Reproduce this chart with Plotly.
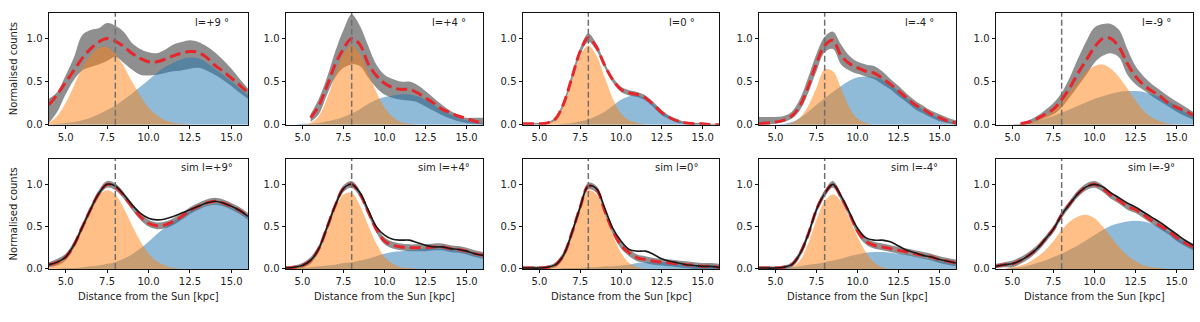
import plotly.graph_objects as go

# ---------------- data ----------------
distance_kpc = [4.0, 4.5, 5.0, 5.5, 6.0, 6.5, 7.0, 7.5, 8.0, 8.5, 9.0, 9.5, 10.0,
                10.5, 11.0, 11.5, 12.0, 12.5, 13.0, 13.5, 14.0, 14.5, 15.0, 15.5, 16.0]
sun_gc_distance = 8.0

x_ticks = [5.0, 7.5, 10.0, 12.5, 15.0]
x_tick_labels = ["5.0", "7.5", "10.0", "12.5", "15.0"]
y_ticks = [0.0, 0.5, 1.0]
y_tick_labels = ["0.0", "0.5", "1.0"]

longitudes = ["+9", "+4", "0", "-4", "-9"]

# --- observed (top row) ---
orange_obs_p9 = [0.02,0.10,0.25,0.45,0.66,0.80,0.89,0.90,0.82,0.68,0.50,0.34,0.20,0.11,0.05,0.02,0.01,0,0,0,0,0,0,0,0]
blue_obs_p9   = [0,0.01,0.02,0.03,0.05,0.08,0.12,0.17,0.22,0.29,0.36,0.44,0.52,0.60,0.67,0.72,0.76,0.78,0.77,0.72,0.65,0.58,0.50,0.42,0.34]
red_obs_p9    = [0.23,0.35,0.49,0.63,0.77,0.88,0.96,1.00,0.97,0.91,0.83,0.77,0.73,0.73,0.76,0.80,0.83,0.85,0.84,0.78,0.69,0.62,0.54,0.46,0.37]
hi_obs_p9     = [0.30,0.38,0.57,0.78,1.04,1.10,1.12,1.18,1.15,1.08,0.95,0.88,0.84,0.83,0.87,0.93,0.96,0.98,0.96,0.91,0.84,0.75,0.65,0.53,0.42]
lo_obs_p9     = [0.02,0.15,0.35,0.52,0.63,0.67,0.70,0.74,0.79,0.72,0.64,0.58,0.57,0.58,0.60,0.62,0.63,0.65,0.66,0.63,0.58,0.52,0.45,0.37,0.30]

orange_obs_p4 = [0,0,0,0.02,0.10,0.30,0.58,0.82,0.92,0.82,0.60,0.38,0.20,0.09,0.03,0.01,0,0,0,0,0,0,0,0,0]
blue_obs_p4   = [0,0,0.01,0.01,0.02,0.04,0.06,0.09,0.13,0.18,0.24,0.29,0.32,0.34,0.35,0.35,0.33,0.29,0.23,0.17,0.12,0.08,0.05,0.03,0.02]
red_obs_p4    = [None,None,None,0.08,0.22,0.45,0.70,0.88,1.00,0.93,0.71,0.57,0.48,0.43,0.41,0.41,0.37,0.31,0.25,0.18,0.14,0.10,0.07,0.04,0.02]
hi_obs_p4     = [None,None,None,0.12,0.30,0.55,0.85,1.10,1.28,1.15,0.92,0.70,0.58,0.53,0.50,0.50,0.46,0.39,0.31,0.23,0.16,0.11,0.08,0.08,0.08]
lo_obs_p4     = [None,None,None,0.03,0.12,0.35,0.55,0.66,0.70,0.68,0.55,0.43,0.35,0.31,0.29,0.28,0.26,0.21,0.16,0.11,0.07,0.04,0.02,0.01,0.0]

orange_obs_0  = [0,0,0,0.01,0.06,0.22,0.52,0.80,0.92,0.80,0.55,0.30,0.13,0.05,0.02,0,0,0,0,0,0,0,0,0,0]
blue_obs_0    = [0,0,0,0,0,0.01,0.02,0.04,0.06,0.10,0.15,0.22,0.29,0.33,0.34,0.30,0.23,0.15,0.09,0.04,0.02,0.01,0,0,0]
red_obs_0     = [0.01,0.01,0.01,0.02,0.07,0.25,0.55,0.85,1.01,0.90,0.69,0.52,0.41,0.37,0.35,0.31,0.23,0.14,0.08,0.04,0.02,0.01,0.01,0.0,0.0]
hi_obs_0      = [0.02,0.02,0.02,0.03,0.09,0.28,0.59,0.89,1.06,0.94,0.72,0.55,0.44,0.40,0.38,0.34,0.26,0.17,0.10,0.06,0.03,0.02,0.02,0.01,0.01]
lo_obs_0      = [0,0,0,0.01,0.05,0.22,0.51,0.81,0.96,0.86,0.66,0.49,0.38,0.34,0.32,0.28,0.20,0.11,0.06,0.02,0.01,0,0,0,0]

orange_obs_m4 = [0,0,0,0,0.02,0.08,0.22,0.43,0.64,0.62,0.42,0.20,0.07,0.02,0,0,0,0,0,0,0,0,0,0,0]
blue_obs_m4   = [0,0,0,0.01,0.03,0.08,0.15,0.23,0.31,0.38,0.45,0.51,0.55,0.56,0.55,0.52,0.46,0.39,0.31,0.24,0.17,0.12,0.07,0.04,0.02]
red_obs_m4    = [0.01,0.02,0.03,0.05,0.10,0.22,0.44,0.71,0.92,0.98,0.80,0.71,0.66,0.62,0.60,0.54,0.47,0.39,0.31,0.23,0.18,0.12,0.08,0.04,0.02]
hi_obs_m4     = [0.09,0.09,0.09,0.10,0.15,0.30,0.55,0.82,1.02,1.08,0.93,0.80,0.73,0.70,0.68,0.62,0.53,0.45,0.36,0.28,0.22,0.16,0.12,0.08,0.05]
lo_obs_m4     = [0,0,0.01,0.03,0.07,0.17,0.37,0.62,0.84,0.88,0.70,0.63,0.59,0.56,0.53,0.47,0.41,0.33,0.26,0.18,0.13,0.08,0.04,0.02,0]

orange_obs_m9 = [0,0,0,0.01,0.02,0.05,0.10,0.17,0.27,0.38,0.50,0.62,0.68,0.70,0.65,0.55,0.42,0.28,0.16,0.08,0.04,0.01,0,0,0]
blue_obs_m9   = [0,0,0,0.01,0.02,0.04,0.07,0.10,0.14,0.18,0.22,0.26,0.30,0.33,0.36,0.38,0.39,0.39,0.38,0.35,0.32,0.27,0.22,0.15,0.10]
red_obs_m9    = [None,None,None,0.01,0.03,0.07,0.12,0.18,0.29,0.43,0.60,0.75,0.90,1.00,1.00,0.90,0.71,0.56,0.46,0.39,0.33,0.25,0.20,0.16,0.11]
hi_obs_m9     = [None,None,None,0.02,0.05,0.10,0.17,0.25,0.37,0.55,0.77,0.97,1.13,1.17,1.17,1.10,0.88,0.68,0.56,0.47,0.40,0.33,0.27,0.21,0.15]
lo_obs_m9     = [None,None,None,0,0.01,0.04,0.08,0.12,0.20,0.32,0.45,0.58,0.72,0.80,0.83,0.78,0.58,0.47,0.40,0.33,0.27,0.21,0.15,0.10,0.06]

# --- simulated (bottom row) ---
orange_sim_p9 = [0.02,0.06,0.14,0.28,0.48,0.70,0.87,0.93,0.88,0.72,0.52,0.33,0.18,0.09,0.04,0.01,0,0,0,0,0,0,0,0,0]
blue_sim_p9   = [0,0,0.01,0.01,0.02,0.03,0.04,0.06,0.08,0.12,0.17,0.24,0.32,0.41,0.49,0.56,0.62,0.68,0.72,0.75,0.77,0.76,0.72,0.67,0.60]
red_sim_p9    = [0.05,0.08,0.14,0.28,0.49,0.70,0.89,1.00,0.97,0.87,0.74,0.62,0.54,0.51,0.52,0.56,0.62,0.69,0.74,0.78,0.80,0.78,0.74,0.69,0.62]
black_sim_p9  = [0.05,0.08,0.14,0.28,0.49,0.70,0.89,1.00,0.98,0.88,0.76,0.66,0.60,0.58,0.59,0.62,0.66,0.70,0.74,0.78,0.80,0.78,0.74,0.69,0.62]
hi_sim_p9     = [0.08,0.12,0.18,0.32,0.53,0.74,0.93,1.04,1.01,0.91,0.78,0.66,0.58,0.55,0.56,0.60,0.66,0.73,0.78,0.82,0.84,0.82,0.78,0.73,0.66]
lo_sim_p9     = [0.02,0.04,0.10,0.24,0.45,0.66,0.85,0.96,0.93,0.83,0.70,0.58,0.50,0.47,0.48,0.52,0.58,0.65,0.70,0.74,0.76,0.74,0.70,0.65,0.58]

orange_sim_p4 = [0.01,0.01,0.03,0.08,0.22,0.46,0.72,0.88,0.90,0.75,0.52,0.30,0.14,0.06,0.02,0.01,0,0,0,0,0,0,0,0,0]
blue_sim_p4   = [0,0,0.01,0.02,0.03,0.04,0.05,0.07,0.08,0.10,0.12,0.15,0.18,0.20,0.21,0.22,0.23,0.24,0.24,0.24,0.23,0.21,0.19,0.16,0.13]
red_sim_p4    = [0.01,0.02,0.04,0.10,0.24,0.49,0.75,0.95,1.00,0.89,0.68,0.47,0.33,0.28,0.26,0.25,0.25,0.25,0.26,0.26,0.24,0.23,0.21,0.18,0.16]
black_sim_p4  = [0.01,0.02,0.04,0.10,0.24,0.49,0.75,0.95,1.00,0.90,0.70,0.50,0.40,0.35,0.34,0.34,0.31,0.28,0.26,0.26,0.24,0.23,0.21,0.18,0.16]
hi_sim_p4     = [0.03,0.04,0.07,0.14,0.28,0.53,0.79,0.99,1.04,0.93,0.72,0.51,0.37,0.32,0.30,0.29,0.29,0.29,0.30,0.30,0.28,0.27,0.25,0.22,0.20]
lo_sim_p4     = [0,0,0.01,0.06,0.20,0.45,0.71,0.91,0.96,0.85,0.64,0.43,0.29,0.24,0.22,0.21,0.21,0.21,0.22,0.22,0.20,0.19,0.17,0.14,0.12]

orange_sim_0  = [0,0,0,0.01,0.04,0.16,0.42,0.72,0.93,0.88,0.66,0.40,0.19,0.07,0.02,0,0,0,0,0,0,0,0,0,0]
blue_sim_0    = [0,0,0,0,0,0.01,0.01,0.01,0.02,0.02,0.03,0.03,0.04,0.05,0.07,0.08,0.08,0.08,0.07,0.06,0.05,0.04,0.03,0.03,0.02]
red_sim_0     = [0.01,0.01,0.01,0.02,0.05,0.17,0.43,0.73,0.98,0.94,0.69,0.45,0.28,0.19,0.13,0.11,0.09,0.08,0.07,0.06,0.05,0.04,0.03,0.03,0.02]
black_sim_0   = [0.01,0.01,0.01,0.02,0.05,0.17,0.43,0.73,0.98,0.95,0.72,0.48,0.33,0.23,0.21,0.21,0.17,0.12,0.09,0.07,0.05,0.04,0.03,0.03,0.02]
hi_sim_0      = [0.03,0.03,0.03,0.04,0.08,0.21,0.47,0.77,1.02,0.98,0.73,0.49,0.32,0.23,0.17,0.15,0.13,0.12,0.11,0.10,0.09,0.08,0.07,0.07,0.06]
lo_sim_0      = [0,0,0,0,0.02,0.13,0.39,0.69,0.94,0.90,0.65,0.41,0.24,0.15,0.09,0.07,0.05,0.04,0.03,0.02,0.01,0,0,0,0]

orange_sim_m4 = [0,0,0,0,0.02,0.10,0.30,0.58,0.80,0.88,0.80,0.60,0.38,0.20,0.08,0.02,0,0,0,0,0,0,0,0,0]
blue_sim_m4   = [0,0,0,0.01,0.02,0.03,0.05,0.06,0.08,0.10,0.12,0.15,0.17,0.19,0.20,0.20,0.19,0.18,0.17,0.15,0.13,0.11,0.09,0.07,0.05]
red_sim_m4    = [0.01,0.01,0.01,0.02,0.05,0.18,0.41,0.70,0.89,1.00,0.85,0.66,0.45,0.33,0.28,0.26,0.24,0.22,0.20,0.18,0.16,0.14,0.11,0.09,0.07]
black_sim_m4  = [0.01,0.01,0.01,0.02,0.05,0.18,0.41,0.70,0.89,1.00,0.86,0.67,0.48,0.37,0.34,0.34,0.32,0.27,0.22,0.19,0.16,0.14,0.11,0.09,0.07]
hi_sim_m4     = [0.03,0.03,0.03,0.04,0.08,0.22,0.45,0.74,0.93,1.04,0.89,0.70,0.49,0.37,0.32,0.30,0.28,0.26,0.24,0.22,0.20,0.18,0.15,0.13,0.11]
lo_sim_m4     = [0,0,0,0,0.02,0.14,0.37,0.66,0.85,0.96,0.81,0.62,0.41,0.29,0.24,0.22,0.20,0.18,0.16,0.14,0.12,0.10,0.07,0.05,0.03]

orange_sim_m9 = [0,0,0.02,0.04,0.08,0.14,0.22,0.33,0.46,0.56,0.62,0.64,0.60,0.50,0.38,0.26,0.16,0.09,0.04,0.02,0.01,0,0,0,0]
blue_sim_m9   = [0,0,0.01,0.02,0.04,0.07,0.10,0.14,0.18,0.23,0.28,0.34,0.40,0.46,0.51,0.54,0.56,0.57,0.56,0.53,0.49,0.44,0.38,0.32,0.26]
red_sim_m9    = [0.03,0.05,0.06,0.10,0.16,0.24,0.35,0.47,0.64,0.77,0.89,0.97,1.00,0.95,0.87,0.81,0.74,0.70,0.64,0.57,0.51,0.45,0.37,0.31,0.26]
black_sim_m9  = [0.03,0.05,0.06,0.10,0.16,0.24,0.35,0.47,0.64,0.77,0.89,0.97,1.00,0.97,0.90,0.84,0.78,0.73,0.67,0.61,0.55,0.48,0.41,0.34,0.28]
hi_sim_m9     = [0.06,0.08,0.10,0.14,0.20,0.28,0.39,0.51,0.68,0.81,0.93,1.01,1.04,0.99,0.91,0.85,0.78,0.74,0.68,0.61,0.55,0.49,0.41,0.35,0.30]
lo_sim_m9     = [0.01,0.02,0.02,0.06,0.12,0.20,0.31,0.43,0.60,0.73,0.85,0.93,0.96,0.91,0.83,0.77,0.70,0.66,0.60,0.53,0.47,0.41,0.33,0.27,0.22]

top_row = [
    (orange_obs_p9, blue_obs_p9, red_obs_p9, hi_obs_p9, lo_obs_p9, None),
    (orange_obs_p4, blue_obs_p4, red_obs_p4, hi_obs_p4, lo_obs_p4, None),
    (orange_obs_0, blue_obs_0, red_obs_0, hi_obs_0, lo_obs_0, None),
    (orange_obs_m4, blue_obs_m4, red_obs_m4, hi_obs_m4, lo_obs_m4, None),
    (orange_obs_m9, blue_obs_m9, red_obs_m9, hi_obs_m9, lo_obs_m9, None),
]
bottom_row = [
    (orange_sim_p9, blue_sim_p9, red_sim_p9, hi_sim_p9, lo_sim_p9, black_sim_p9),
    (orange_sim_p4, blue_sim_p4, red_sim_p4, hi_sim_p4, lo_sim_p4, black_sim_p4),
    (orange_sim_0, blue_sim_0, red_sim_0, hi_sim_0, lo_sim_0, black_sim_0),
    (orange_sim_m4, blue_sim_m4, red_sim_m4, hi_sim_m4, lo_sim_m4, black_sim_m4),
    (orange_sim_m9, blue_sim_m9, red_sim_m9, hi_sim_m9, lo_sim_m9, black_sim_m9),
]

# ---------------- layout helpers ----------------
W, H = 1200, 322
panel_left = [49, 286, 523, 759, 996]
panel_right = [248, 483, 719, 956, 1193]
row_top = [13, 162]
row_bottom = [127, 274]

ORANGE = "rgba(255,127,14,0.5)"
BLUE = "rgba(31,119,180,0.5)"
GRAY = "rgb(143,143,143)"
RED = "#e6262b"
FONT = "DejaVu Sans"
TXT = "#222222"


def valid(xs, ys):
    px, py = [], []
    for a, b in zip(xs, ys):
        if b is not None:
            px.append(a)
            py.append(b)
    return px, py


fig = go.Figure()
layout = dict(
    width=W, height=H, autosize=False,
    margin=dict(l=0, r=0, t=0, b=0),
    paper_bgcolor="white", plot_bgcolor="white",
    showlegend=False,
    font=dict(family=FONT, size=10, color=TXT),
)
annotations = []

idx = 0
for r, row in enumerate([top_row, bottom_row]):
    for c, (orange, blue, red, hi, lo, black) in enumerate(row):
        idx += 1
        xa = "x" if idx == 1 else f"x{idx}"
        ya = "y" if idx == 1 else f"y{idx}"
        # gray uncertainty band
        xl, yl = valid(distance_kpc, lo)
        xh, yh = valid(distance_kpc, hi)
        fig.add_trace(go.Scatter(x=xl, y=yl, mode="lines", line=dict(width=0, shape="spline"),
                                 hoverinfo="skip", xaxis=xa, yaxis=ya))
        fig.add_trace(go.Scatter(x=xh, y=yh, mode="lines", line=dict(width=0, shape="spline"),
                                 fill="tonexty", fillcolor=GRAY, hoverinfo="skip", xaxis=xa, yaxis=ya))
        # components
        fig.add_trace(go.Scatter(x=distance_kpc, y=blue, mode="lines",
                                 line=dict(width=0, shape="spline"), fill="tozeroy",
                                 fillcolor=BLUE, xaxis=xa, yaxis=ya))
        fig.add_trace(go.Scatter(x=distance_kpc, y=orange, mode="lines",
                                 line=dict(width=0, shape="spline"), fill="tozeroy",
                                 fillcolor=ORANGE, xaxis=xa, yaxis=ya))
        # total model
        xr, yr = valid(distance_kpc, red)
        fig.add_trace(go.Scatter(x=xr, y=yr, mode="lines",
                                 line=dict(color=RED, width=3, dash="11px,5px", shape="spline"),
                                 xaxis=xa, yaxis=ya))
        if black is not None:
            fig.add_trace(go.Scatter(x=distance_kpc, y=black, mode="lines",
                                     line=dict(color="#1a1a1a", width=1.6, shape="spline"),
                                     xaxis=xa, yaxis=ya))
        # Sun-GC distance marker
        fig.add_trace(go.Scatter(x=[sun_gc_distance, sun_gc_distance], y=[0, 1.3], mode="lines",
                                 line=dict(color="#707070", width=1.5, dash="6px,3px"),
                                 xaxis=xa, yaxis=ya))

        x0 = panel_left[c] / W
        x1 = panel_right[c] / W
        y0 = 1 - row_bottom[r] / H
        y1 = 1 - row_top[r] / H
        axis_common = dict(showline=True, mirror=True, linecolor="#111111", linewidth=1,
                           ticks="outside", ticklen=3.5, tickwidth=0.8, tickcolor="#111111",
                           showgrid=False, zeroline=False,
                           tickfont=dict(family=FONT, size=10, color=TXT), fixedrange=True)
        layout["xaxis" if idx == 1 else f"xaxis{idx}"] = dict(
            domain=[x0, x1], range=[4, 16], anchor=ya,
            tickmode="array", tickvals=x_ticks, ticktext=x_tick_labels, **axis_common)
        layout["yaxis" if idx == 1 else f"yaxis{idx}"] = dict(
            domain=[y0, y1], range=[0, 1.3], anchor=xa,
            tickmode="array", tickvals=y_ticks, ticktext=y_tick_labels, **axis_common)

        # panel label
        if r == 0:
            label = f"l={longitudes[c]} °"
            lx = (panel_left[c] + 144) / W
            ly = 1 - (row_top[r] + 10) / H
        else:
            label = f"sim l={longitudes[c]}°"
            lx = (panel_left[c] + 130) / W
            ly = 1 - (row_top[r] + 9) / H
        annotations.append(dict(x=lx, y=ly, xref="paper", yref="paper", text=label,
                                showarrow=False, xanchor="left", yanchor="middle",
                                font=dict(family=FONT, size=10, color=TXT)))

        if r == 1:
            annotations.append(dict(x=(panel_left[c] + panel_right[c]) / 2 / W, y=1 - 302.5 / H,
                                    xref="paper", yref="paper",
                                    text="Distance from the Sun [kpc]", showarrow=False,
                                    xanchor="center", yanchor="middle",
                                    font=dict(family=FONT, size=10, color=TXT)))

for r in range(2):
    annotations.append(dict(x=13.5 / W, y=1 - (row_top[r] + row_bottom[r]) / 2 / H,
                            xref="paper", yref="paper", text="Normalised counts",
                            showarrow=False, textangle=-90, xanchor="center", yanchor="middle",
                            font=dict(family=FONT, size=10, color=TXT)))

layout["annotations"] = annotations
fig.update_layout(**layout)
fig.write_html("out.html")
